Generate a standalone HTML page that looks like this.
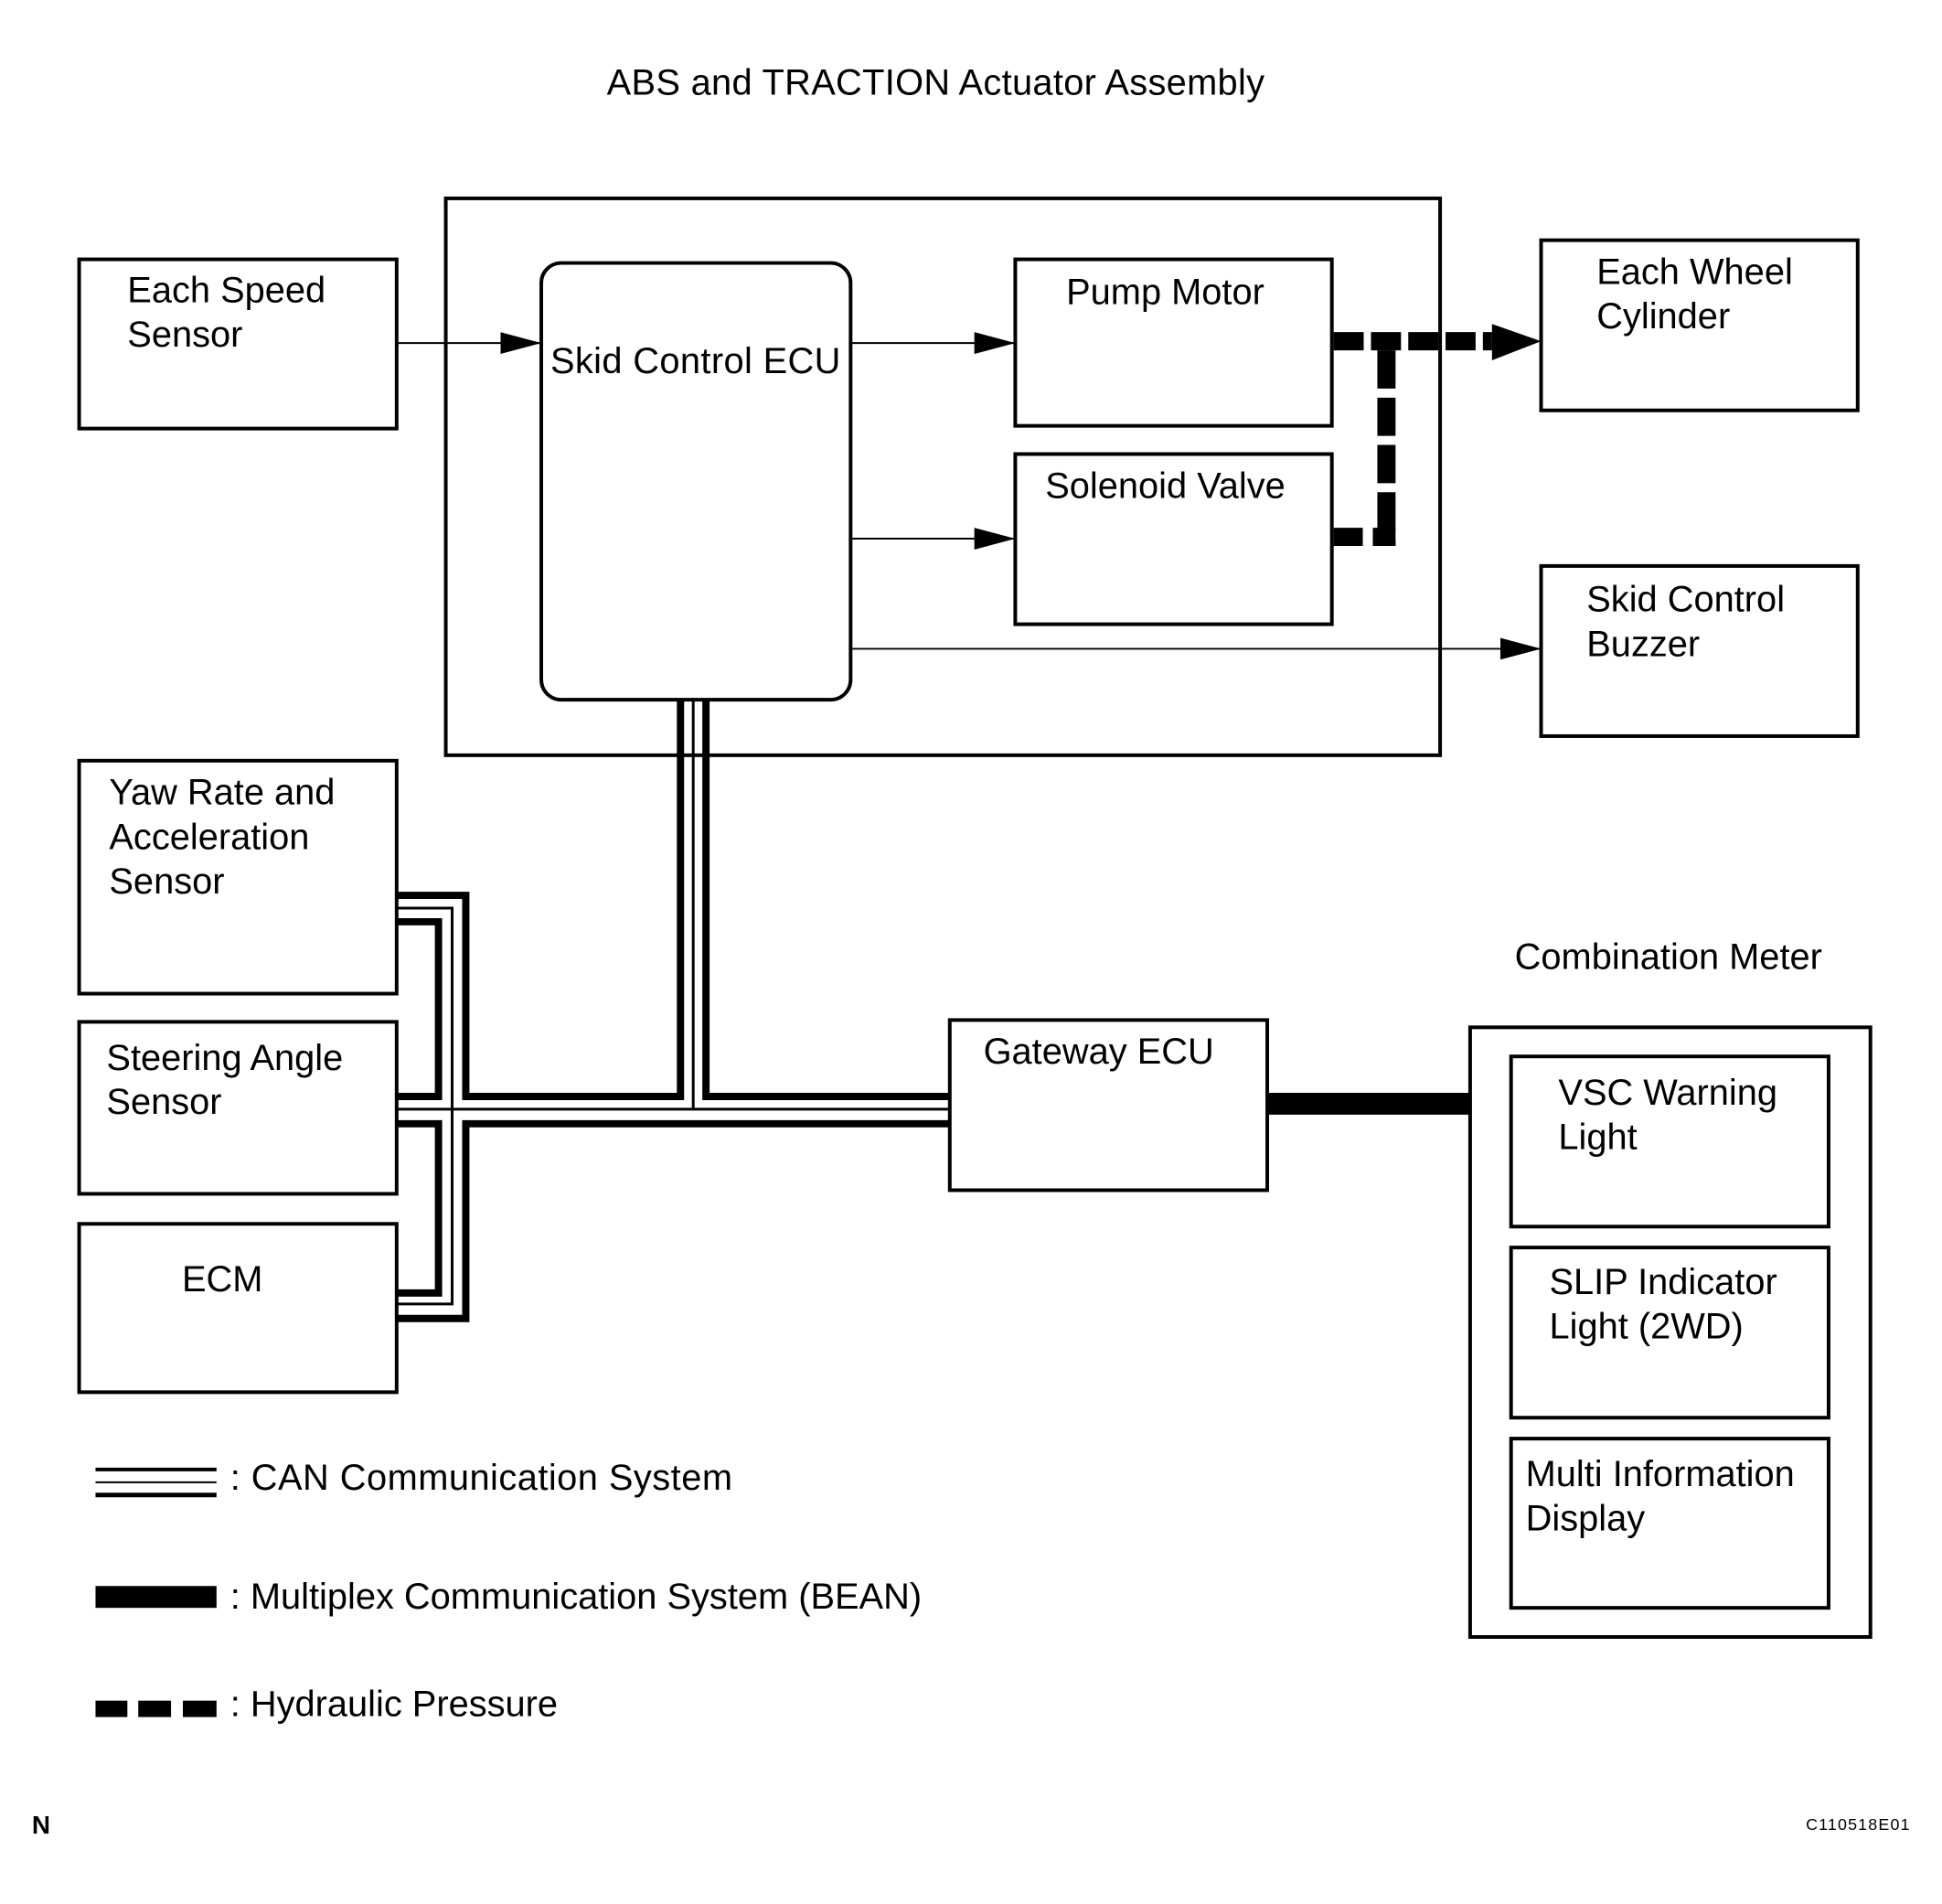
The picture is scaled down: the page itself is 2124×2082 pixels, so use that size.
<!DOCTYPE html>
<html><head><meta charset="utf-8"><style>
html,body{margin:0;padding:0;background:#fff}
svg{display:block}
text{font-family:"Liberation Sans",sans-serif;font-size:40px;fill:#000}
</style></head><body>
<svg width="2124" height="2082" viewBox="0 0 2124 2082" xmlns="http://www.w3.org/2000/svg">
<defs>
<marker id="ah" markerWidth="45" markerHeight="24" refX="45" refY="12" orient="auto" markerUnits="userSpaceOnUse">
<path d="M0,0 L45,12 L0,24 Z" fill="#000"/>
</marker>
</defs>
<g transform="scale(0.995)">
<text x="667" y="104" textLength="723">ABS and TRACTION Actuator Assembly</text>

<g fill="none" stroke="#000" stroke-width="4">
<rect x="490" y="218" width="1093" height="612"/>
<rect x="87" y="285" width="349" height="186"/>
<rect x="595" y="289" width="340" height="480" rx="22"/>
<rect x="1116" y="285" width="348" height="183"/>
<rect x="1116" y="499" width="348" height="187"/>
<rect x="1694" y="264" width="348" height="187"/>
<rect x="1694" y="622" width="348" height="187"/>
<rect x="87" y="836" width="349" height="256"/>
<rect x="87" y="1123" width="349" height="189"/>
<rect x="87" y="1345" width="349" height="185"/>
<rect x="1044" y="1121" width="349" height="187"/>
<rect x="1616" y="1129" width="440" height="670"/>
<rect x="1661" y="1161" width="349" height="187"/>
<rect x="1661" y="1371" width="349" height="187"/>
<rect x="1661" y="1581" width="349" height="186"/>
</g>

<g stroke="#000" stroke-width="2" fill="none">
<line x1="436" y1="377" x2="595" y2="377" marker-end="url(#ah)"/>
<line x1="935" y1="377" x2="1116" y2="377" marker-end="url(#ah)"/>
<line x1="935" y1="592" x2="1116" y2="592" marker-end="url(#ah)"/>
<line x1="935" y1="713" x2="1694" y2="713" marker-end="url(#ah)"/>
</g>

<g stroke="#000" stroke-width="20" fill="none">
<line x1="1466" y1="375" x2="1640" y2="375" stroke-dasharray="33,8"/>
<line x1="1524" y1="385" x2="1524" y2="600" stroke-dasharray="42,10"/>
<line x1="1466" y1="590" x2="1498" y2="590"/>
<line x1="1509" y1="590" x2="1534" y2="590"/>
</g>
<path d="M1640,356 L1694,375 L1640,396 Z" fill="#000"/>

<g fill="none" stroke="#000" stroke-linejoin="miter">
<g stroke-width="8">
<polyline points="436,984 512,984 512,1205 748,1205 748,769"/>
<polyline points="436,1013 482,1013 482,1205 436,1205"/>
<polyline points="436,1235 482,1235 482,1421 436,1421"/>
<polyline points="436,1449 512,1449 512,1235 1044,1235"/>
<polyline points="776,769 776,1205 1044,1205"/>
</g>
<g stroke-width="3">
<polyline points="436,998 497,998 497,1433 436,1433"/>
<line x1="436" y1="1219" x2="1044" y2="1219"/>
<line x1="762" y1="769" x2="762" y2="1219"/>
</g>
</g>

<rect x="1393" y="1201" width="223" height="24" fill="#000"/>

<text x="140" y="332">Each Speed</text>
<text x="140" y="381">Sensor</text>
<text x="605" y="410" textLength="319">Skid Control ECU</text>
<text x="1172" y="334">Pump Motor</text>
<text x="1149" y="547">Solenoid Valve</text>
<text x="1755" y="312">Each Wheel</text>
<text x="1755" y="361">Cylinder</text>
<text x="1744" y="672">Skid Control</text>
<text x="1744" y="721">Buzzer</text>
<text x="120" y="884">Yaw Rate and</text>
<text x="120" y="933">Acceleration</text>
<text x="120" y="982">Sensor</text>
<text x="117" y="1176">Steering Angle</text>
<text x="117" y="1224">Sensor</text>
<text x="200" y="1419">ECM</text>
<text x="1081" y="1169">Gateway ECU</text>
<text x="1665" y="1065">Combination Meter</text>
<text x="1713" y="1214">VSC Warning</text>
<text x="1713" y="1263">Light</text>
<text x="1703" y="1422">SLIP Indicator</text>
<text x="1703" y="1471">Light (2WD)</text>
<text x="1677" y="1633">Multi Information</text>
<text x="1677" y="1682">Display</text>

<g stroke="#000" fill="none">
<line x1="105" y1="1615" x2="238" y2="1615" stroke-width="4"/>
<line x1="105" y1="1629" x2="238" y2="1629" stroke-width="2"/>
<line x1="105" y1="1643" x2="238" y2="1643" stroke-width="5"/>
</g>
<rect x="105" y="1743" width="133" height="24" fill="#000"/>
<rect x="105" y="1869" width="35" height="18" fill="#000"/>
<rect x="152" y="1869" width="36" height="18" fill="#000"/>
<rect x="201" y="1869" width="37" height="18" fill="#000"/>
<text x="253" y="1637" textLength="552">: CAN Communication System</text>
<text x="253" y="1768">: Multiplex Communication System (BEAN)</text>
<text x="253" y="1886">: Hydraulic Pressure</text>

<text x="35" y="2015" style="font-size:28px;font-weight:bold">N</text>
<text x="1985" y="2011" style="font-size:18px" textLength="114">C110518E01</text>
</g>
</svg>
</body></html>
